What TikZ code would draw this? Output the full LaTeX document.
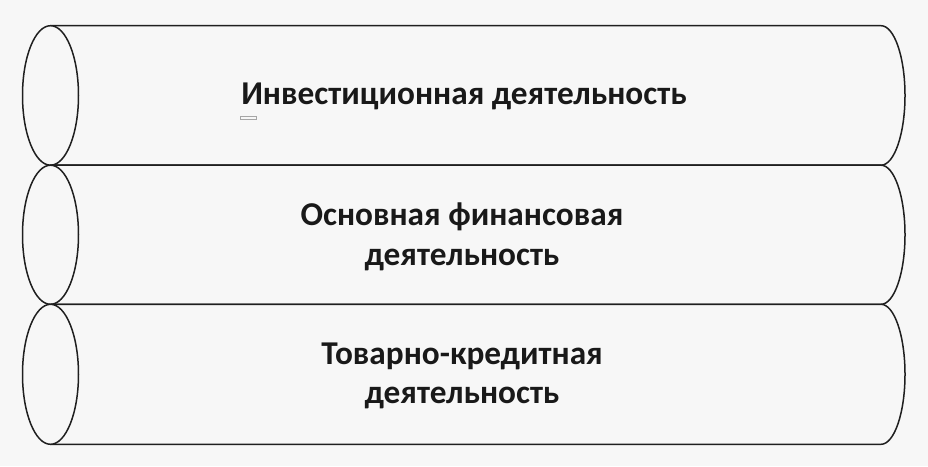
\documentclass[tikz,border=0pt]{standalone}
\usepackage{fontspec}
\setmainfont{Carlito}
\begin{document}
\begin{tikzpicture}[x=1pt,y=1pt,
  cyl/.style={draw=black!88, line width=1.5pt, fill=bgc},
  lbl/.style={font=\bfseries\fontsize{33.3}{39.5}\selectfont, text=black!90, align=center, inner sep=0pt},
]
\definecolor{bgc}{HTML}{F7F7F7}
\fill[bgc] (0,0) rectangle (928,466);
\useasboundingbox (0,0) rectangle (928,466);
% cylinders: top and bottom Y values
\foreach \t/\b in {440.3/300.8, 300.8/161.7, 161.7/21.7}{
  \pgfmathsetmacro{\m}{(\t+\b)/2}
  \pgfmathsetmacro{\r}{(\t-\b)/2}
  \draw[cyl] (50.5,\t) -- (881,\t) arc[start angle=90, end angle=-90, x radius=24, y radius=\r] -- (50.5,\b);
  \draw[cyl] (50.5,\m) ellipse[x radius=28, y radius=\r];
}
\node[lbl] (t1) at (464,370) {Инвестиционная деятельность};
\node[lbl] (t2) at (462,229) {Основная финансовая\\деятельность};
\node[lbl] (t3) at (462,90) {Товарно-кредитная\\деятельность};
\draw[black!35, line width=0.5pt] (240,349.5) rectangle (256,347);
\end{tikzpicture}
\end{document}
